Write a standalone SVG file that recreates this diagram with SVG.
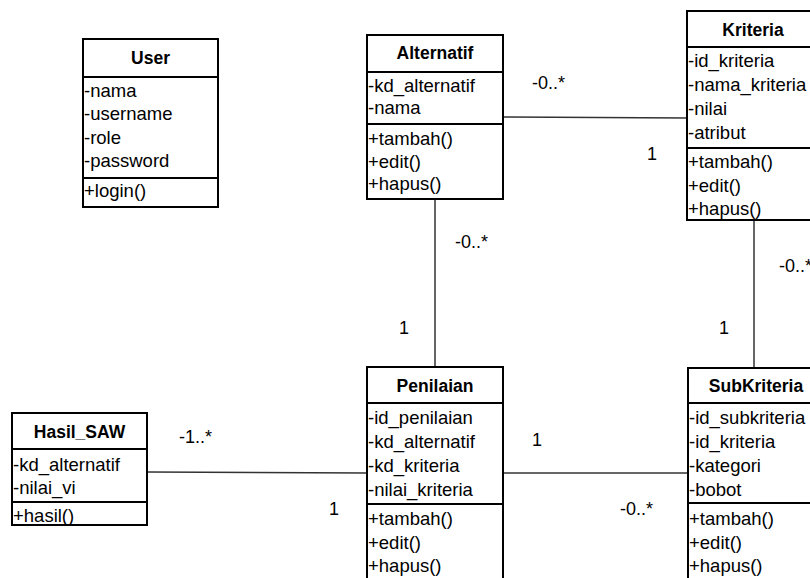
<svg xmlns="http://www.w3.org/2000/svg" width="810" height="578" viewBox="0 0 810 578">
  <style>
    .box { fill: #ffffff; stroke: #000000; stroke-width: 2; }
    .sep { stroke: #000000; stroke-width: 2; }
    .title { font-family: "Liberation Sans", Arial, sans-serif; font-size: 17.5px; font-weight: bold; fill: #000; text-anchor: middle; }
    .row { font-family: "Liberation Sans", Arial, sans-serif; font-size: 18.5px; fill: #000; }
    .mult { font-family: "Liberation Sans", Arial, sans-serif; font-size: 18px; fill: #000; }
    .edge { stroke: #333333; stroke-width: 1.5; fill: none; }
  </style>
  <rect width="810" height="578" fill="#ffffff"/>

  <!-- associations -->
  <g id="connectors">
    <line class="edge" x1="503" y1="117" x2="687" y2="118"/>
    <line class="edge" x1="435" y1="199" x2="435" y2="367"/>
    <line class="edge" x1="754" y1="220" x2="754" y2="368"/>
    <line class="edge" x1="147" y1="472" x2="367" y2="473"/>
    <line class="edge" x1="503" y1="473" x2="688" y2="473"/>
    <text class="mult" x="532" y="89">-0..*</text>
    <text class="mult" x="647" y="160">1</text>
    <text class="mult" x="455" y="248">-0..*</text>
    <text class="mult" x="399" y="334">1</text>
    <text class="mult" x="779" y="272">-0..*</text>
    <text class="mult" x="719" y="334">1</text>
    <text class="mult" x="179" y="443">-1..*</text>
    <text class="mult" x="329" y="515">1</text>
    <text class="mult" x="532" y="446">1</text>
    <text class="mult" x="620" y="515">-0..*</text>
  </g>

  <g id="user">
    <rect class="box" x="83" y="39" width="135" height="168"/>
    <line class="sep" x1="83" y1="77" x2="218" y2="77"/>
    <line class="sep" x1="83" y1="178" x2="218" y2="178"/>
    <text class="title" x="150.5" y="64">User</text>
    <text class="row" x="84" y="97">-nama</text>
    <text class="row" x="84" y="120">-username</text>
    <text class="row" x="84" y="144">-role</text>
    <text class="row" x="84" y="167">-password</text>
    <text class="row" x="84" y="197">+login()</text>
  </g>

  <g id="alternatif">
    <rect class="box" x="367" y="35" width="136" height="164"/>
    <line class="sep" x1="367" y1="72" x2="503" y2="72"/>
    <line class="sep" x1="367" y1="124" x2="503" y2="124"/>
    <text class="title" x="435" y="59">Alternatif</text>
    <text class="row" x="368" y="92">-kd_alternatif</text>
    <text class="row" x="368" y="114">-nama</text>
    <text class="row" x="368" y="145">+tambah()</text>
    <text class="row" x="368" y="168">+edit()</text>
    <text class="row" x="368" y="190">+hapus()</text>
  </g>

  <g id="kriteria">
    <rect class="box" x="687" y="11" width="140" height="209"/>
    <line class="sep" x1="687" y1="47" x2="827" y2="47"/>
    <line class="sep" x1="687" y1="148" x2="827" y2="148"/>
    <text class="title" x="753" y="36">Kriteria</text>
    <text class="row" x="688" y="67">-id_kriteria</text>
    <text class="row" x="688" y="91">-nama_kriteria</text>
    <text class="row" x="688" y="115">-nilai</text>
    <text class="row" x="688" y="139">-atribut</text>
    <text class="row" x="688" y="168">+tambah()</text>
    <text class="row" x="688" y="192">+edit()</text>
    <text class="row" x="688" y="215">+hapus()</text>
  </g>

  <g id="penilaian">
    <rect class="box" x="367" y="367" width="136" height="220"/>
    <line class="sep" x1="367" y1="403" x2="503" y2="403"/>
    <line class="sep" x1="367" y1="504" x2="503" y2="504"/>
    <text class="title" x="435" y="392">Penilaian</text>
    <text class="row" x="368" y="424">-id_penilaian</text>
    <text class="row" x="368" y="448">-kd_alternatif</text>
    <text class="row" x="368" y="472">-kd_kriteria</text>
    <text class="row" x="368" y="496">-nilai_kriteria</text>
    <text class="row" x="368" y="525">+tambah()</text>
    <text class="row" x="368" y="549">+edit()</text>
    <text class="row" x="368" y="572">+hapus()</text>
  </g>

  <g id="subkriteria">
    <rect class="box" x="688" y="368" width="140" height="220"/>
    <line class="sep" x1="688" y1="403" x2="828" y2="403"/>
    <line class="sep" x1="688" y1="503" x2="828" y2="503"/>
    <text class="title" x="756" y="392">SubKriteria</text>
    <text class="row" x="689" y="424">-id_subkriteria</text>
    <text class="row" x="689" y="448">-id_kriteria</text>
    <text class="row" x="689" y="472">-kategori</text>
    <text class="row" x="689" y="496">-bobot</text>
    <text class="row" x="689" y="525">+tambah()</text>
    <text class="row" x="689" y="549">+edit()</text>
    <text class="row" x="689" y="572">+hapus()</text>
  </g>

  <g id="hasil_saw">
    <rect class="box" x="12" y="413" width="135" height="112"/>
    <line class="sep" x1="12" y1="449" x2="147" y2="449"/>
    <line class="sep" x1="12" y1="502" x2="147" y2="502"/>
    <text class="title" x="79.5" y="438">Hasil_SAW</text>
    <text class="row" x="13" y="471">-kd_alternatif</text>
    <text class="row" x="13" y="494">-nilai_vi</text>
    <text class="row" x="13" y="522">+hasil()</text>
  </g>
</svg>
